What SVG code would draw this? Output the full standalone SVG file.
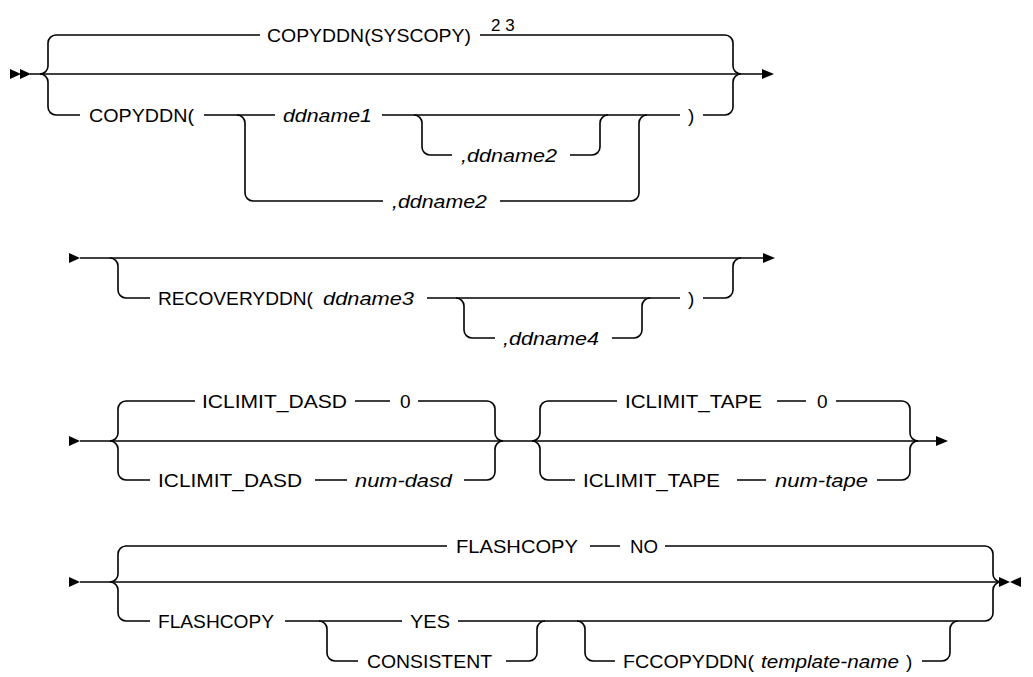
<svg xmlns="http://www.w3.org/2000/svg" width="1033" height="677" viewBox="0 0 1033 677">
<style>
.t{font-family:"Liberation Sans",Arial,sans-serif;font-size:19px;fill:#000}
.i{font-style:italic}
.s{font-size:17px}
.c{fill:none;stroke:#000;stroke-width:1.6}
.a{fill:#000;stroke:none}
</style>
<rect width="1033" height="677" fill="#fff"/>
<g id="connectors">
<path class="c" d="M30,74 H762"/>
<path class="c" d="M40,74 A8,8 0 0 0 48,66 V43 A8,8 0 0 1 56,35 H260 M480,35 H725 A8,8 0 0 1 733,43 V66 A8,8 0 0 0 741,74"/>
<path class="c" d="M40,74 A8,8 0 0 1 48,82 V107 A8,8 0 0 0 56,115 H80 M204,115 H275 M382,115 H680 M703,115 H725 A8,8 0 0 0 733,107 V82 A8,8 0 0 1 741,74"/>
<path class="c" d="M237,115 A8,8 0 0 1 245,123 V193 A8,8 0 0 0 253,201 H383 M500,201 H631 A8,8 0 0 0 639,193 V123 A8,8 0 0 1 647,115"/>
<path class="c" d="M414,115 A8,8 0 0 1 422,123 V147 A8,8 0 0 0 430,155 H452 M570,155 H592 A8,8 0 0 0 600,147 V123 A8,8 0 0 1 608,115"/>
<path class="a" d="M10,69 L21,74 L10,79 Z M20,69 L31,74 L20,79 Z"/>
<path class="a" d="M762,69 L774,74 L762,79 Z"/>

<path class="c" d="M80,258 H763"/>
<path class="c" d="M110,258 A8,8 0 0 1 118,266 V290 A8,8 0 0 0 126,298 H150 M427,298 H680 M703,298 H725 A8,8 0 0 0 733,290 V266 A8,8 0 0 1 741,258"/>
<path class="c" d="M456,298 A8,8 0 0 1 464,306 V330 A8,8 0 0 0 472,338 H495 M612,338 H634 A8,8 0 0 0 642,330 V306 A8,8 0 0 1 650,298"/>
<path class="a" d="M69,253 L80,258 L69,263 Z"/>
<path class="a" d="M763,253 L775,258 L763,263 Z"/>

<path class="c" d="M80,441 H936"/>
<path class="c" d="M110,441 A8,8 0 0 0 118,433 V409 A8,8 0 0 1 126,401 H195 M355,401 H390 M418,401 H487 A8,8 0 0 1 495,409 V433 A8,8 0 0 0 503,441"/>
<path class="c" d="M110,441 A8,8 0 0 1 118,449 V472 A8,8 0 0 0 126,480 H150 M315,480 H347 M464,480 H487 A8,8 0 0 0 495,472 V449 A8,8 0 0 1 503,441"/>
<path class="c" d="M532,441 A8,8 0 0 0 540,433 V409 A8,8 0 0 1 548,401 H617 M777,401 H806 M836,401 H902 A8,8 0 0 1 910,409 V433 A8,8 0 0 0 918,441"/>
<path class="c" d="M532,441 A8,8 0 0 1 540,449 V472 A8,8 0 0 0 548,480 H575 M737,480 H766 M877,480 H902 A8,8 0 0 0 910,472 V449 A8,8 0 0 1 918,441"/>
<path class="a" d="M69,436 L80,441 L69,446 Z"/>
<path class="a" d="M936,436 L948,441 L936,446 Z"/>

<path class="c" d="M80,582 H1000"/>
<path class="c" d="M110,582 A8,8 0 0 0 118,574 V554 A8,8 0 0 1 126,546 H447 M590,546 H620 M665,546 H985 A8,8 0 0 1 993,554 V574 A8,8 0 0 0 1001,582"/>
<path class="c" d="M110,582 A8,8 0 0 1 118,590 V613 A8,8 0 0 0 126,621 H150 M285,621 H402 M458,621 H985 A8,8 0 0 0 993,613 V590 A8,8 0 0 1 1001,582"/>
<path class="c" d="M319,621 A8,8 0 0 1 327,629 V653 A8,8 0 0 0 335,661 H358 M506,661 H529 A8,8 0 0 0 537,653 V629 A8,8 0 0 1 545,621"/>
<path class="c" d="M577,621 A8,8 0 0 1 585,629 V653 A8,8 0 0 0 593,661 H615 M922,661 H942 A8,8 0 0 0 950,653 V629 A8,8 0 0 1 958,621"/>
<path class="a" d="M69,577 L80,582 L69,587 Z"/>
<path class="a" d="M999,577 L1010,582 L999,587 Z M1021,577 L1010,582 L1021,587 Z"/>
</g>

<g id="n-copyddn-syscopy"><text class="t" x="267" y="42" textLength="204" lengthAdjust="spacingAndGlyphs">COPYDDN(SYSCOPY)</text></g>
<g id="n-note23"><text class="t s" x="491" y="31">2 3</text></g>
<g id="n-copyddn"><text class="t" x="89" y="122" textLength="105" lengthAdjust="spacingAndGlyphs">COPYDDN(</text></g>
<g id="n-ddname1"><text class="t i" x="283" y="122" textLength="89" lengthAdjust="spacingAndGlyphs">ddname1</text></g>
<g id="n-ddname2-inner"><text class="t i" x="461" y="162" textLength="96" lengthAdjust="spacingAndGlyphs">,ddname2</text></g>
<g id="n-ddname2-outer"><text class="t i" x="392" y="208" textLength="95" lengthAdjust="spacingAndGlyphs">,ddname2</text></g>
<g id="n-rparen1"><text class="t" x="688" y="122">)</text></g>

<g id="n-recoveryddn"><text class="t" x="158" y="305" textLength="155" lengthAdjust="spacingAndGlyphs">RECOVERYDDN(</text></g>
<g id="n-ddname3"><text class="t i" x="323" y="305" textLength="91" lengthAdjust="spacingAndGlyphs">ddname3</text></g>
<g id="n-ddname4"><text class="t i" x="503" y="345" textLength="96" lengthAdjust="spacingAndGlyphs">,ddname4</text></g>
<g id="n-rparen2"><text class="t" x="688" y="305">)</text></g>

<g id="n-iclimit-dasd-default"><text class="t" x="202" y="408" textLength="145" lengthAdjust="spacingAndGlyphs">ICLIMIT_DASD</text><text class="t" x="400" y="408">0</text></g>
<g id="n-iclimit-dasd"><text class="t" x="158" y="487" textLength="144" lengthAdjust="spacingAndGlyphs">ICLIMIT_DASD</text><text class="t i" x="355" y="487" textLength="97" lengthAdjust="spacingAndGlyphs">num-dasd</text></g>
<g id="n-iclimit-tape-default"><text class="t" x="625" y="408" textLength="137" lengthAdjust="spacingAndGlyphs">ICLIMIT_TAPE</text><text class="t" x="817" y="408">0</text></g>
<g id="n-iclimit-tape"><text class="t" x="583" y="487" textLength="137" lengthAdjust="spacingAndGlyphs">ICLIMIT_TAPE</text><text class="t i" x="775" y="487" textLength="93" lengthAdjust="spacingAndGlyphs">num-tape</text></g>

<g id="n-flashcopy-default"><text class="t" x="456" y="553" textLength="122" lengthAdjust="spacingAndGlyphs">FLASHCOPY</text><text class="t" x="630" y="553" textLength="28" lengthAdjust="spacingAndGlyphs">NO</text></g>
<g id="n-flashcopy"><text class="t" x="158" y="628" textLength="116" lengthAdjust="spacingAndGlyphs">FLASHCOPY</text></g>
<g id="n-yes"><text class="t" x="410" y="628" textLength="40" lengthAdjust="spacingAndGlyphs">YES</text></g>
<g id="n-consistent"><text class="t" x="367" y="668" textLength="125" lengthAdjust="spacingAndGlyphs">CONSISTENT</text></g>
<g id="n-fccopyddn"><text class="t" x="623" y="668" textLength="131" lengthAdjust="spacingAndGlyphs">FCCOPYDDN(</text><text class="t i" x="761" y="668" textLength="138" lengthAdjust="spacingAndGlyphs">template-name</text><text class="t" x="906" y="668">)</text></g>
</svg>
